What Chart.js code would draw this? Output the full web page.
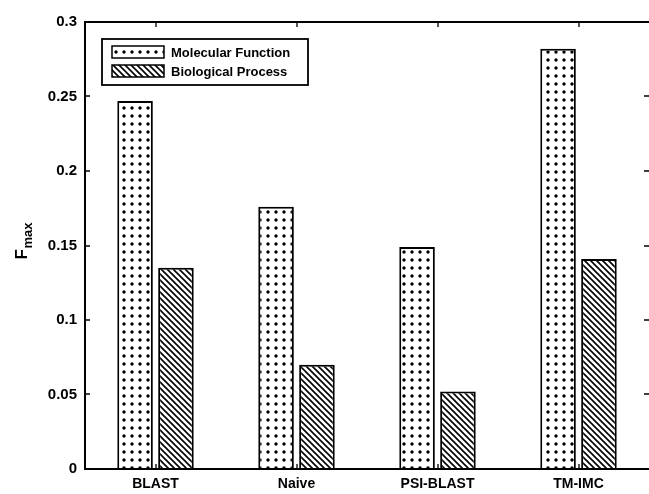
<!DOCTYPE html>
<html>
<head>
<meta charset="utf-8">
<script src="https://cdn.jsdelivr.net/npm/chart.js@4.4.1/dist/chart.umd.min.js"></script>
<style>
  html, body { margin: 0; padding: 0; background: #fff; }
  #wrap { width: 649px; height: 494px; }
</style>
</head>
<body>
<div id="wrap"><canvas id="chart" width="649" height="494"></canvas></div>
<script>
// data
const methods = ['BLAST', 'Naive', 'PSI-BLAST', 'TM-IMC'];
const molecularFunction = [0.247, 0.176, 0.149, 0.282];
const biologicalProcess = [0.135, 0.070, 0.052, 0.141];
const yTicks = [0, 0.05, 0.1, 0.15, 0.2, 0.25, 0.3];

const FONT = '"Liberation Sans", Arial, sans-serif';

function dotPattern(ctx) {
    const c = document.createElement('canvas');
    c.width = 8; c.height = 8;
    const g = c.getContext('2d');
    g.fillStyle = '#fff';
    g.fillRect(0, 0, 8, 8);
    g.fillStyle = '#000';
    g.beginPath();
    g.arc(4, 4, 1.7, 0, Math.PI * 2);
    g.fill();
    return ctx.createPattern(c, 'repeat');
}

function hatchPattern(ctx) {
    const s = 6;
    const c = document.createElement('canvas');
    c.width = s; c.height = s;
    const g = c.getContext('2d');
    g.fillStyle = '#fff';
    g.fillRect(0, 0, s, s);
    g.strokeStyle = '#000';
    g.lineWidth = 1.6;
    g.beginPath();
    g.moveTo(-1, -1); g.lineTo(s + 1, s + 1);
    g.moveTo(-1, s - 1); g.lineTo(1, s + 1);
    g.moveTo(s - 1, -1); g.lineTo(s + 1, 1);
    g.stroke();
    return ctx.createPattern(c, 'repeat');
}

const ctx = document.getElementById('chart').getContext('2d');
const mfFill = dotPattern(ctx);
const bpFill = hatchPattern(ctx);

// box, inward ticks, legend and y title in matlab style
const matlabAxes = {
    id: 'matlabAxes',
    afterDraw(chart) {
        const c = chart.ctx;
        const a = chart.chartArea;
        const x = chart.scales.x, y = chart.scales.y;
        c.save();
        c.strokeStyle = '#000';
        c.lineWidth = 2;
        c.beginPath();
        c.moveTo(a.right, a.top); c.lineTo(a.left, a.top);
        c.lineTo(a.left, a.bottom); c.lineTo(a.right, a.bottom);
        c.stroke();

        c.lineWidth = 1.3;
        c.beginPath();
        yTicks.forEach(v => {
            const py = Math.round(y.getPixelForValue(v));
            c.moveTo(a.left, py); c.lineTo(a.left + 5, py);
            c.moveTo(a.right, py); c.lineTo(a.right - 5, py);
        });
        methods.forEach((m, i) => {
            const px = Math.round(x.getPixelForValue(i));
            c.moveTo(px, a.bottom); c.lineTo(px, a.bottom - 5);
            c.moveTo(px, a.top); c.lineTo(px, a.top + 5);
        });
        c.stroke();

        // legend
        const lx = 102, ly = 39, lw = 206, lh = 46;
        c.fillStyle = '#fff';
        c.fillRect(lx, ly, lw, lh);
        c.lineWidth = 1.8;
        c.strokeRect(lx, ly, lw, lh);
        const rows = [
            { label: chart.data.datasets[0].label, fill: mfFill, cy: 52 },
            { label: chart.data.datasets[1].label, fill: bpFill, cy: 71 }
        ];
        c.font = 'bold 13px ' + FONT;
        c.textBaseline = 'middle';
        rows.forEach(r => {
            c.fillStyle = r.fill;
            c.fillRect(112, r.cy - 6, 52, 12);
            c.lineWidth = 1.5;
            c.strokeRect(112, r.cy - 6, 52, 12);
            c.fillStyle = '#000';
            c.fillText(r.label, 171, r.cy + 1);
        });

        // y title F_max
        c.translate(27, (a.top + a.bottom) / 2);
        c.rotate(-Math.PI / 2);
        c.fillStyle = '#000';
        c.textBaseline = 'alphabetic';
        c.font = 'bold 17px ' + FONT;
        c.fillText('F', -14, 0);
        c.font = 'bold 13px ' + FONT;
        c.fillText('max', -3, 5);
        c.restore();
    }
};

new Chart(ctx, {
    type: 'bar',
    data: {
        labels: methods,
        datasets: [
            {
                label: 'Molecular Function',
                data: molecularFunction,
                backgroundColor: mfFill,
                borderColor: '#000',
                borderWidth: 2,
                categoryPercentage: 0.58,
                barPercentage: 0.87
            },
            {
                label: 'Biological Process',
                data: biologicalProcess,
                backgroundColor: bpFill,
                borderColor: '#000',
                borderWidth: 2,
                categoryPercentage: 0.58,
                barPercentage: 0.87
            }
        ]
    },
    options: {
        responsive: false,
        animation: false,
        layout: { padding: { top: 22, right: 0, left: 0, bottom: 0 } },
        plugins: {
            legend: { display: false },
            tooltip: { enabled: false }
        },
        scales: {
            x: {
                grid: { display: false, drawTicks: false },
                border: { display: false },
                ticks: {
                    color: '#000',
                    padding: 7,
                    font: { family: FONT, size: 14, weight: 'bold' }
                },
                afterFit: s => { s.height = 25; }
            },
            y: {
                min: 0,
                max: 0.3,
                grid: { display: false, drawTicks: false },
                border: { display: false },
                afterFit: s => { s.width = 85; },
                afterBuildTicks: s => { s.ticks = yTicks.map(v => ({ value: v })); },
                ticks: {
                    color: '#000',
                    padding: 8,
                    font: { family: FONT, size: 15, weight: 'bold' },
                    callback: v => String(parseFloat(v.toFixed(2)))
                }
            }
        }
    },
    plugins: [matlabAxes]
});
</script>
</body>
</html>
